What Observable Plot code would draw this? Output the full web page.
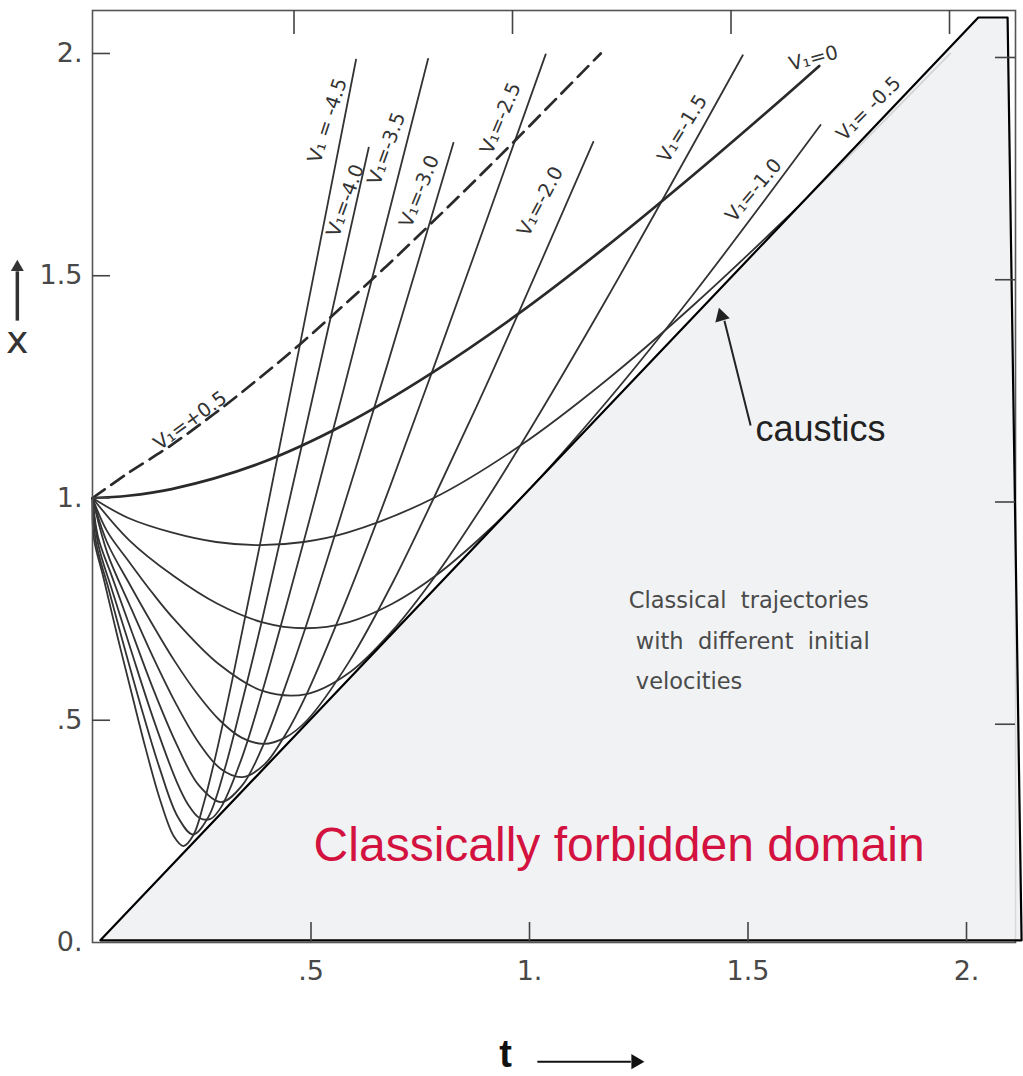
<!DOCTYPE html>
<html>
<head>
<meta charset="utf-8">
<script src="https://cdn.jsdelivr.net/npm/d3@7"></script>
<script src="https://cdn.jsdelivr.net/npm/@observablehq/plot@0.6"></script>
<style>
  html, body { margin: 0; padding: 0; background: #fff; }
  #chart svg { display: block; }
</style>
</head>
<body>
<div id="chart"></div>
<script>
// ---- axis ticks (t = time, x = position) ----
const tTicks = [0.5, 1, 1.5, 2];
const tTickLabels = [".5", "1.", "1.5", "2."];
const xTicks = [0.5, 1, 1.5, 2];
const xLabelValues = [0, 0.5, 1, 1.5, 2];
const xLabelTexts = ["0.", ".5", "1.", "1.5", "2."];

// ---- trajectories x(t), one list of [t, x] per initial velocity V1 ----
const curveVp05 = [[0,1],[0.080,1.055],[0.179,1.118],[0.278,1.189],[0.376,1.265],[0.475,1.346],[0.573,1.432],[0.672,1.521],[0.770,1.613],[0.868,1.707],[0.966,1.803],[1.064,1.901],[1.163,2.0]];
const curveV0 = [[0,1],[0.081,1.005],[0.181,1.020],[0.380,1.077],[0.578,1.166],[0.776,1.281],[0.974,1.414],[1.171,1.562],[1.368,1.721],[1.565,1.887],[1.663,1.972]];
const curveVm05 = [[0,1],[0.082,0.955],[0.183,0.922],[0.283,0.901],[0.383,0.894],[0.483,0.901],[0.583,0.922],[0.781,1.0],[0.979,1.118],[1.176,1.265],[1.373,1.432],[1.570,1.613],[1.766,1.803],[1.963,2.0]];
const curveVm1 = [[0,1],[0.083,0.906],[0.185,0.825],[0.286,0.762],[0.387,0.721],[0.487,0.707],[0.587,0.721],[0.686,0.762],[0.785,0.825],[0.883,0.906],[0.981,1.0],[1.177,1.217],[1.373,1.456],[1.666,1.839]];
const curveVm15 = [[0,1],[0.033,0.926],[0.084,0.856],[0.135,0.789],[0.186,0.728],[0.288,0.627],[0.389,0.566],[0.490,0.559],[0.589,0.608],[0.687,0.702],[0.785,0.825],[0.882,0.966],[0.979,1.118],[1.173,1.442],[1.488,1.996]];
const curveVm2 = [[0,1],[0.033,0.901],[0.085,0.806],[0.137,0.716],[0.188,0.633],[0.240,0.559],[0.291,0.5],[0.341,0.461],[0.392,0.447],[0.441,0.461],[0.491,0.5],[0.588,0.633],[0.685,0.806],[0.781,1.0],[0.878,1.204],[0.974,1.414],[1.146,1.801]];
const curveVm25 = [[0,1],[0.034,0.876],[0.086,0.757],[0.138,0.643],[0.190,0.539],[0.242,0.451],[0.293,0.391],[0.343,0.372],[0.393,0.4],[0.441,0.467],[0.490,0.559],[0.585,0.781],[0.681,1.026],[0.776,1.281],[0.871,1.540],[1.037,1.998]];
const curveVm3 = [[0,1],[0.013,0.911],[0.045,0.822],[0.087,0.707],[0.139,0.570],[0.192,0.447],[0.243,0.354],[0.294,0.316],[0.343,0.354],[0.392,0.447],[0.439,0.570],[0.487,0.707],[0.581,1.0],[0.676,1.304],[0.826,1.799]];
const curveVm35 = [[0,1],[0.013,0.896],[0.045,0.792],[0.088,0.658],[0.141,0.498],[0.193,0.361],[0.219,0.310],[0.245,0.280],[0.270,0.278],[0.294,0.304],[0.342,0.416],[0.389,0.566],[0.483,0.901],[0.577,1.253],[0.768,1.988]];
const curveVm4 = [[0,1],[0.008,0.900],[0.035,0.802],[0.067,0.685],[0.110,0.534],[0.153,0.394],[0.195,0.283],[0.230,0.243],[0.265,0.282],[0.303,0.392],[0.340,0.532],[0.387,0.721],[0.479,1.118],[0.632,1.788]];
const curveVm45 = [[0,1],[0.003,0.910],[0.025,0.821],[0.057,0.689],[0.090,0.559],[0.122,0.435],[0.154,0.323],[0.186,0.239],[0.208,0.217],[0.231,0.242],[0.254,0.311],[0.282,0.421],[0.319,0.587],[0.383,0.894],[0.475,1.346],[0.603,1.986]];

const velocities = ["+0.5", "0", "-0.5", "-1.0", "-1.5", "-2.0", "-2.5", "-3.0", "-3.5", "-4.0", "-4.5"];
const curves = [curveVp05, curveV0, curveVm05, curveVm1, curveVm15, curveVm2, curveVm25, curveVm3, curveVm35, curveVm4, curveVm45];

// ---- curve labels ----
const vLabelText  = ["V₁=+0.5", "V₁=0", "V₁= -0.5", "V₁=-1.0", "V₁=-1.5", "V₁=-2.0", "V₁=-2.5", "V₁=-3.0", "V₁=-3.5", "V₁=-4.0", "V₁ = -4.5"];
const vLabelT     = [0.224, 1.650, 1.776, 1.513, 1.350, 1.025, 0.934, 0.748, 0.673, 0.579, 0.538];
const vLabelX     = [1.174, 1.989, 1.876, 1.692, 1.831, 1.667, 1.854, 1.690, 1.786, 1.669, 1.849];
const vLabelAngle = [-36, -15, -45, -50, -58, -62, -67, -68, -70, -70, -72];

// ---- classically forbidden domain (outlined overlay) ----
const forbiddenT = [0.018, 2.027, 2.094, 2.126];
const forbiddenX = [0.005, 2.081, 2.081, 0.005];

// ---- annotations ----
const causticArrow = [{t1: 1.506, x1: 1.163, t2: 1.446, x2: 1.399, th: 1.439, xh: 1.409, rot: -16}];
const causticLabel = [{t: 1.517, x: 1.129, text: "caustics"}];
const noteLabel = [{t: 1.227, x: 0.817, text: "Classical  trajectories\n with  different  initial\n velocities"}];
const forbiddenLabel = [{t: 0.506, x: 0.184, text: "Classically forbidden domain"}];
const tAxisTitle = [{t: 0.945, x: -0.252, text: "t"}];
const tAxisArrow = [{t1: 1.018, x1: -0.268, t2: 1.232, x2: -0.268, th: 1.243, xh: -0.268, rot: 90}];
const xAxisTitle = [{t: -0.172, x: 1.354, text: "x"}];
const xAxisArrow = [{t1: -0.172, x1: 1.399, t2: -0.172, x2: 1.51, th: -0.172, xh: 1.519, rot: 0}];

// ---- build table ----
const rows = curves.flatMap((pts, i) => pts.map(([t, x]) => ({v: velocities[i], t, x})));
const forbidden = forbiddenT.map((t, i) => ({t, x: forbiddenX[i]}));
const vLabels = vLabelText.map((text, i) => ({text, t: vLabelT[i], x: vLabelX[i], a: vLabelAngle[i]}));

const W = 1023, H = 1076;
const mL = 92, mR = 8, mT = 10, mB = 134;
const frameW = W - mL - mR, frameH = H - mT - mB;
const ink = "#333";

const chart = Plot.plot({
  width: W,
  height: H,
  marginLeft: mL,
  marginRight: mR,
  marginTop: mT,
  marginBottom: mB,
  x: {domain: [0, 2.1121], axis: null},
  y: {domain: [0, 2.0967], axis: null},
  style: {background: "#fff", fontFamily: "DejaVu Sans", overflow: "visible"},
  marks: [
    // trajectories
    Plot.line(rows.filter(d => d.v !== "0" && d.v !== "+0.5"), {x: "t", y: "x", z: "v", curve: "catmull-rom", stroke: ink, strokeWidth: 1.8}),
    Plot.line(rows.filter(d => d.v === "0"), {x: "t", y: "x", curve: "catmull-rom", stroke: "#2a2a2a", strokeWidth: 2.7}),
    Plot.line(rows.filter(d => d.v === "+0.5"), {x: "t", y: "x", curve: "catmull-rom", stroke: "#2a2a2a", strokeWidth: 2.7, strokeDasharray: "15,8"}),
    // original frame
    Plot.frame({stroke: "#555", strokeWidth: 1.6}),
    // forbidden domain overlay
    Plot.line(forbidden, {x: "t", y: "x", curve: "linear-closed", fill: "#eef0f2", fillOpacity: 0.86, stroke: "none"}),
    Plot.line(forbidden, {x: "t", y: "x", curve: "linear-closed", fill: "none", stroke: "#000", strokeWidth: 2.2}),
    // ticks (pointing inward)
    Plot.tickX(tTicks, {x: d => d, insetTop: frameH - 20, stroke: "#444", strokeWidth: 1.6}),
    Plot.tickX(tTicks, {x: d => d, insetBottom: frameH - 24, dx: -17, stroke: "#444", strokeWidth: 1.6}),
    Plot.tickY(xTicks, {y: d => d, insetRight: frameW - 18, stroke: "#444", strokeWidth: 1.6}),
    Plot.tickY(xTicks, {y: d => d, insetLeft: frameW - 20, dy: 4, stroke: "#444", strokeWidth: 1.6}),
    // tick labels
    Plot.text(tTicks, {x: d => d, frameAnchor: "bottom", dy: 29, text: (d, i) => tTickLabels[i], lineAnchor: "middle", fontSize: 27, fill: "#484848"}),
    Plot.text(xLabelValues, {y: d => d, frameAnchor: "left", dx: -10, text: (d, i) => xLabelTexts[i], textAnchor: "end", fontSize: 27, fill: "#484848"}),
    // curve labels
    Plot.text(vLabels, {x: "t", y: "x", text: "text", rotate: "a", fontSize: 19.5, fill: ink}),
    // caustics annotation
    Plot.link(causticArrow, {x1: "t1", y1: "x1", x2: "t2", y2: "x2", stroke: "#222", strokeWidth: 2}),
    Plot.dot(causticArrow, {x: "th", y: "xh", rotate: "rot", symbol: "triangle", r: 5.6, fill: "#222", stroke: "none"}),
    Plot.text(causticLabel, {x: "t", y: "x", text: "text", textAnchor: "start", lineAnchor: "bottom", fontFamily: "Liberation Sans", fontSize: 36, fill: "#222"}),
    // note
    Plot.text(noteLabel, {x: "t", y: "x", text: "text", textAnchor: "start", lineAnchor: "top", lineHeight: 1.8, fontSize: 22.5, fill: "#4a4a4a"}),
    // forbidden label
    Plot.text(forbiddenLabel, {x: "t", y: "x", text: "text", textAnchor: "start", lineAnchor: "bottom", fontFamily: "Liberation Sans", fontSize: 48, fill: "#d3123f"}),
    // axis titles with arrows
    Plot.text(tAxisTitle, {x: "t", y: "x", text: "text", lineAnchor: "middle", fontFamily: "Liberation Sans", fontWeight: "bold", fontSize: 38, fill: "#111"}),
    Plot.link(tAxisArrow, {x1: "t1", y1: "x1", x2: "t2", y2: "x2", stroke: "#111", strokeWidth: 2}),
    Plot.dot(tAxisArrow, {x: "th", y: "xh", rotate: "rot", symbol: "triangle", r: 5.6, fill: "#111", stroke: "none"}),
    Plot.text(xAxisTitle, {x: "t", y: "x", text: "text", lineAnchor: "middle", fontSize: 38, fill: "#333"}),
    Plot.link(xAxisArrow, {x1: "t1", y1: "x1", x2: "t2", y2: "x2", stroke: "#333", strokeWidth: 3.5}),
    Plot.dot(xAxisArrow, {x: "th", y: "xh", rotate: "rot", symbol: "triangle", r: 4.8, fill: "#333", stroke: "none"})
  ]
});
document.getElementById("chart").appendChild(chart);
</script>
</body>
</html>
